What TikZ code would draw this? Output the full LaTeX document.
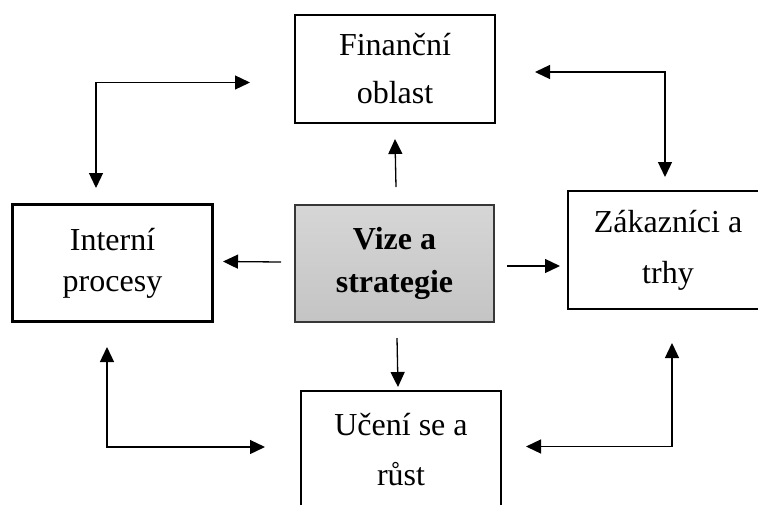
\documentclass[tikz,border=0pt]{standalone}
\usepackage{fontspec}
\setmainfont{Liberation Serif}
\usetikzlibrary{arrows.meta}
\begin{document}
\begin{tikzpicture}[x=1pt,y=-1pt,
  box/.style={draw=black,line width=2.2pt,rectangle,minimum width=200pt,
    inner sep=0pt,align=center,font=\fontsize{32}{48}\selectfont},
  corebox/.style={box,draw={rgb,255:red,55;green,55;blue,55},line width=1.6pt,
    top color={rgb,255:red,214;green,214;blue,214},
    bottom color={rgb,255:red,196;green,196;blue,196},
    font=\fontsize{32}{43}\selectfont\bfseries},
  arr/.style={line width=1.3pt,-{Triangle[length=15pt,width=14pt]}},
  biarr/.style={line width=1.3pt,{Triangle[length=15pt,width=14pt]}-{Triangle[length=15pt,width=14pt]}}
]
\useasboundingbox (0,0) rectangle (758,504);

% the five perspective boxes
\node[box,minimum height=108pt] (fin) at (395,69) {Finanční\\oblast};
\node[box,minimum height=117pt,font=\fontsize{32}{41}\selectfont] (int) at (112.5,263) {Interní\\procesy};
\node[corebox,minimum height=117pt,minimum width=199pt] (viz) at (394.5,263.5) {Vize a\\strategie};
\node[box,minimum height=118pt,font=\fontsize{32}{51}\selectfont] (zak) at (668,250) {Zákazníci a\\trhy};
\node[box,minimum height=118pt,font=\fontsize{32}{50}\selectfont] (uc) at (401,450) {Učení se a\\růst};

% end points of the arrows
\coordinate (vizUp) at (396,187);   \coordinate (finIn) at (395,139);
\coordinate (vizLeft) at (281,262); \coordinate (intIn) at (223,261.5);
\coordinate (vizRight) at (507,266);\coordinate (zakIn) at (560,266);
\coordinate (vizDown) at (397,338); \coordinate (ucIn) at (398,387);

\coordinate (intTop) at (96,188);   \coordinate (finLeft) at (250,82.5);
\coordinate (finRight) at (535,72); \coordinate (zakTop) at (665,177);
\coordinate (intBot) at (107,347);  \coordinate (ucLeft) at (265,447);
\coordinate (zakBot) at (672,343);  \coordinate (ucRight) at (526,446.5);

% arrows out of the centre
\draw[arr] (vizUp) -- (finIn);
\draw[arr] (vizLeft) -- (intIn);
\draw[arr] (vizRight) -- (zakIn);
\draw[arr] (vizDown) -- (ucIn);

% links between neighbouring perspectives
\draw[biarr] (intTop) |- (finLeft);
\draw[biarr] (finRight) -| (zakTop);
\draw[biarr] (intBot) |- (ucLeft);
\draw[biarr] (zakBot) |- (ucRight);
\end{tikzpicture}
\end{document}
